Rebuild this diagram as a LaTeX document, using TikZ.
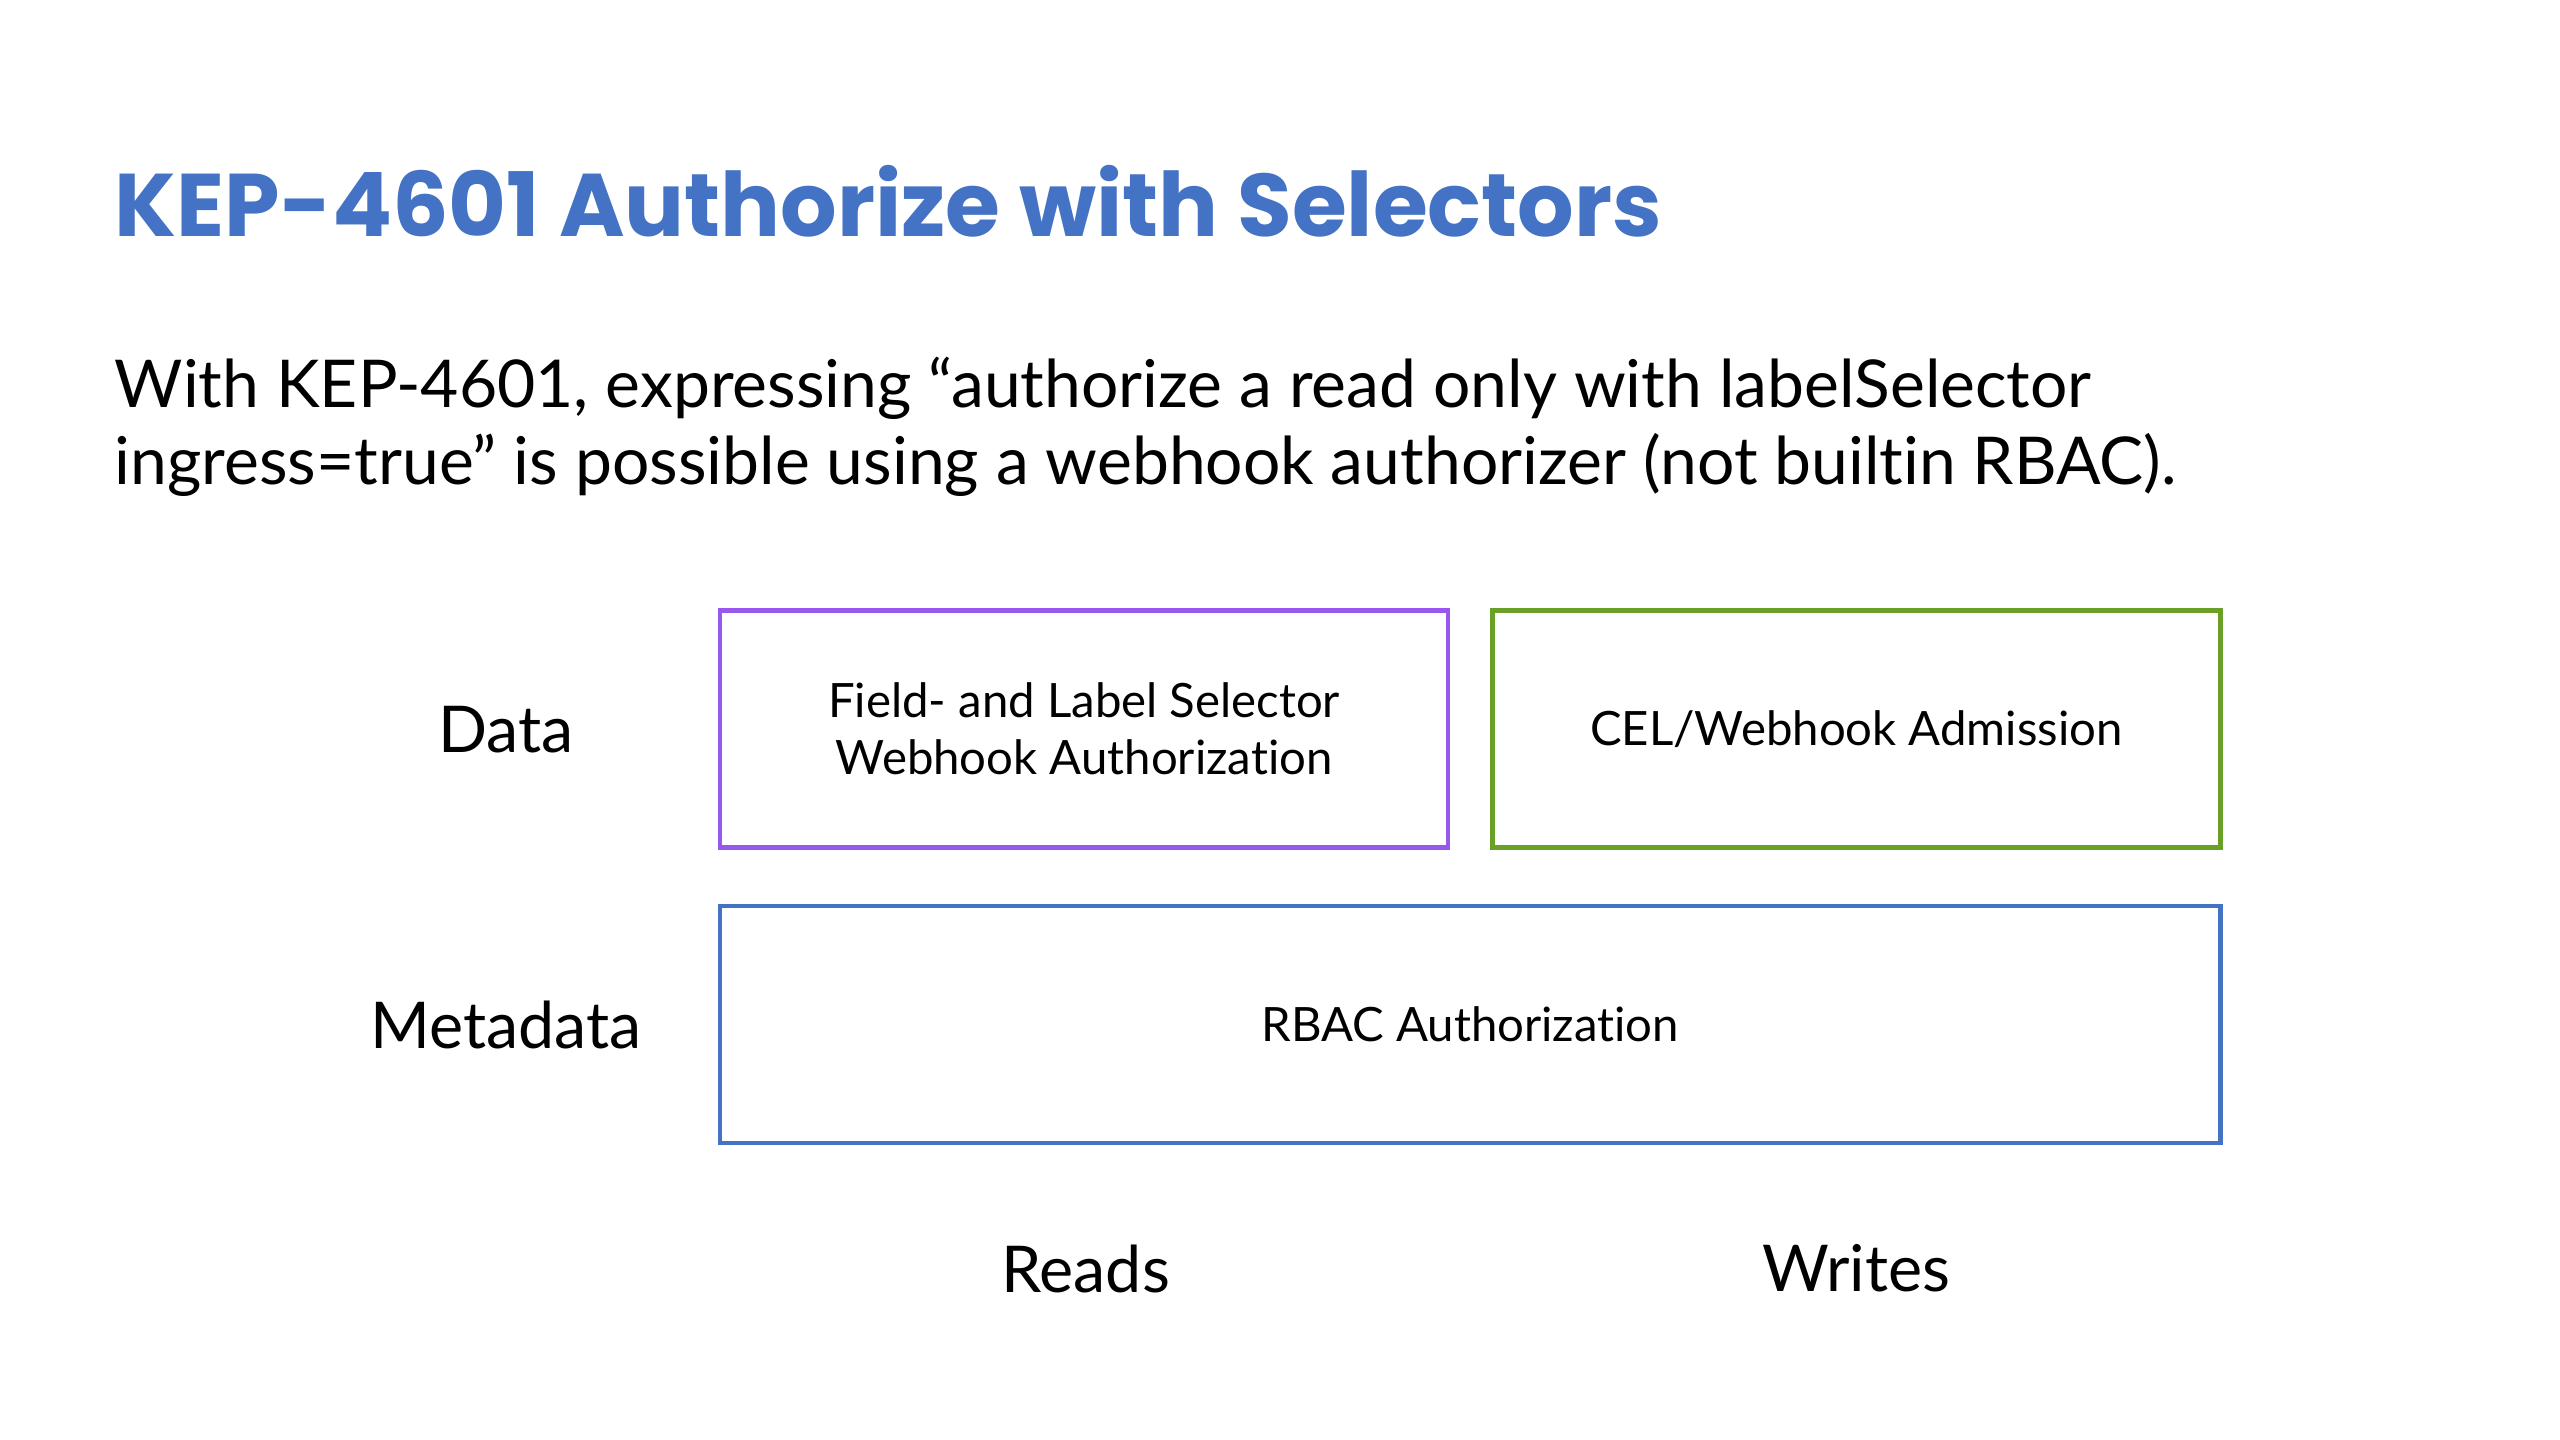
\documentclass[tikz,border=0pt]{standalone}
\usepackage{fontspec}
\setmainfont{Lato}[Ligatures=CommonOff]
\newfontfamily\titlefont{Poppins}
\usetikzlibrary{positioning}
\definecolor{kepblue}{RGB}{68,114,196}
\definecolor{keppurple}{RGB}{152,88,240}
\definecolor{kepgreen}{RGB}{106,160,40}
\begin{document}
\begin{tikzpicture}[
        x=0.02cm, y=-0.02cm,
        box/.style={draw, line width=1.6pt, minimum width=8.92cm, minimum height=2.9cm,
            align=center, font=\fontsize{16.5}{20}\selectfont}, % Ячейки таблицы
        axis/.style={font=\fontsize{22.5}{27}\selectfont}, % Подписи строк и столбцов
    ]
    \useasboundingbox (0,0) rectangle (1568,882);

    \node[anchor=base west, text=kepblue, font=\titlefont\bfseries\fontsize{31}{36}\selectfont, inner sep=0]
        (title) at (70,145) {KEP-4601 Authorize with Selectors};
    \node[anchor=base west, align=left, inner sep=0, font=\fontsize{23}{27}\selectfont]
        (intro) at (70,297) {With KEP-4601, expressing “authorize a read only with labelSelector\\
        ingress=true” is possible using a webhook authorizer (not builtin RBAC).};

    \node[box, draw=keppurple] (reads) at (664,446.5) {Field- and Label Selector\\Webhook Authorization};
    \node[box, draw=kepgreen] (writes) at (1137,446.5) {CEL/Webhook Admission};
    \node[box, draw=kepblue, minimum width=18.38cm] (rbac) at (900.5,627.5) {RBAC Authorization};

    \node[axis] (data) at (310,447) {Data};
    \node[axis] (meta) at (310,628) {Metadata};
    \node[axis] (readlbl) at (665,777) {Reads};
    \node[axis] (writelbl) at (1137,777) {Writes};
\end{tikzpicture}
\end{document}
